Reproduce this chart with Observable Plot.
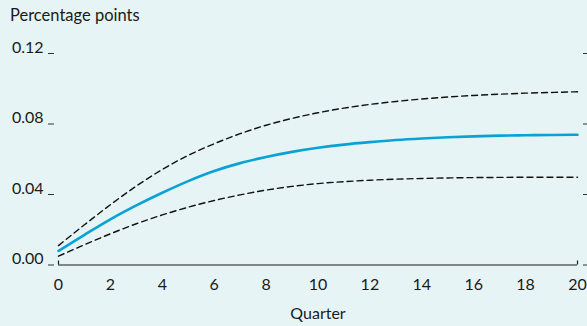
<!DOCTYPE html>
<html>
<head>
<meta charset="utf-8">
<script src="https://cdn.jsdelivr.net/npm/d3@7"></script>
<script src="https://cdn.jsdelivr.net/npm/@observablehq/plot@0.6"></script>
<style>
  html, body { margin: 0; padding: 0; background: #e6f4f5; }
  #wrap { position: relative; width: 587px; height: 326px; overflow: hidden; background: #e6f4f5; font-family: Lato, "Open Sans", sans-serif; }
  #title { position: absolute; left: 10px; top: 5px; font-size: 16.5px; color: #1a1a1a; }
</style>
</head>
<body>
<div id="wrap"><div id="title">Percentage points</div></div>
<script>
const quarters = [0,1,2,3,4,5,6,7,8,9,10,11,12,13,14,15,16,17,18,19,20];
const central = [0.008,0.0171,0.0259,0.0338,0.041,0.0476,0.0533,0.0578,0.0613,0.0642,0.0665,0.0683,0.0697,0.0709,0.0718,0.0725,0.073,0.0734,0.0736,0.0738,0.0739];
const upper   = [0.011,0.0228,0.0342,0.0448,0.0542,0.0622,0.0688,0.0745,0.0793,0.0832,0.0864,0.089,0.0911,0.0928,0.0942,0.0953,0.0962,0.0969,0.0975,0.0979,0.0983];
const lower   = [0.005,0.0115,0.0177,0.0234,0.0284,0.0328,0.0366,0.0398,0.0425,0.0446,0.0462,0.0473,0.0481,0.0487,0.0491,0.0494,0.0496,0.0497,0.0498,0.0498,0.0498];
const yTicks = [0, 0.04, 0.08, 0.12];
const xTicks = [0,2,4,6,8,10,12,14,16,18,20];
const xEnds = [0, 20];

const toRows = (vals) => quarters.map((q, i) => ({q, v: vals[i]}));

const W = 587, H = 326, mT = 53, mB = 61.5, mL = 58, mR = 10;
const chart = Plot.plot({
  width: W, height: H,
  marginTop: mT, marginBottom: mB, marginLeft: mL, marginRight: mR,
  style: {background: "transparent", fontFamily: "Lato, 'Open Sans', sans-serif", fontSize: "16px", color: "#1a1a1a"},
  x: {domain: [0, 20], label: null},
  y: {domain: [0, 0.12], label: null},
  marks: [
    Plot.axisY(yTicks, {anchor: "left", tickSize: 6, dx: -4, tickFormat: () => "", stroke: "#333", label: null}),
    Plot.axisY(yTicks, {anchor: "left", tickSize: 0, tickPadding: 15, dy: -6, tickFormat: d3.format(".2f"), fill: "#1a1a1a", label: null}),
    Plot.axisY(yTicks, {anchor: "right", tickSize: 5, dx: 5, tickFormat: () => "", stroke: "#333", label: null}),
    Plot.axisX(xTicks, {anchor: "bottom", tickSize: 0, tickPadding: 14, fill: "#1a1a1a", label: "Quarter", labelAnchor: "center", labelOffset: 54, labelArrow: "none"}),
    Plot.ruleY([0], {stroke: "#1a1a1a", strokeWidth: 1.2}),
    Plot.tickX(xEnds, {x: d => d, stroke: "#1a1a1a", strokeWidth: 1.2, insetTop: (H - mT - mB) - 4}),
    Plot.line(toRows(upper), {x: "q", y: "v", stroke: "#111", strokeWidth: 1.4, strokeDasharray: "6,4", curve: "monotone-x"}),
    Plot.line(toRows(lower), {x: "q", y: "v", stroke: "#111", strokeWidth: 1.4, strokeDasharray: "6,4", curve: "monotone-x"}),
    Plot.line(toRows(central), {x: "q", y: "v", stroke: "#0aa2d4", strokeWidth: 2.6, curve: "monotone-x"})
  ]
});
document.getElementById("wrap").appendChild(chart);
</script>
</body>
</html>
